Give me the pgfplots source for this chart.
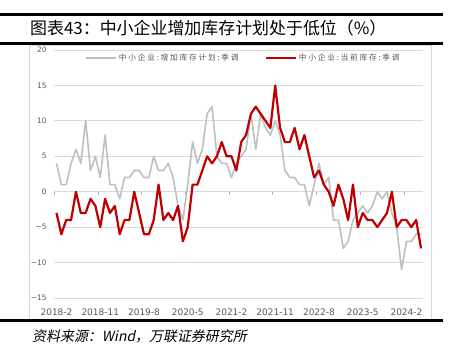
\documentclass[border=0pt]{standalone}
\usepackage{pgfplots}
\pgfplotsset{compat=1.18}
\usepackage{pgfplotstable}
\usepackage{fontspec}
\setmainfont{DejaVu Sans}
\newfontfamily\cjk{Noto Sans CJK SC}
\newfontfamily\cjkit[FakeSlant=0.2]{Noto Sans CJK SC}
\newfontfamily\cjkleg[LetterSpace=22]{Noto Sans CJK SC}
\definecolor{grayline}{HTML}{BFBFBF}
\definecolor{redline}{HTML}{C00000}
\definecolor{gridc}{HTML}{D9D9D9}
\definecolor{txt}{HTML}{595959}

\pgfplotstableread{
m plan cur
0 4 -3
1 1 -6
2 1 -4
3 4 -4
4 6 0
5 4 -3
6 10 -3
7 3 -1
8 5 -2
9 2 -5
10 8 -1
11 1 -3
12 1 -2
13 -1 -6
14 2 -4
15 2 -4
16 3 0
17 3 -3
18 2 -6
19 2 -6
20 5 -4
21 3 1
22 3 -4
23 4 -3
24 2 -4
25 -2 -2
26 -4 -7
27 1 -5
28 7 1
29 4 1
30 6 3
31 11 5
32 12 4
33 5 5
34 4 7
35 4 5
36 2 5
37 4 3
38 5 7
39 6 8
40 11 11
41 6 12
42 11 11
43 9 10
44 8 9
45 10 15
46 8 9
47 3 7
48 2 7
49 2 9
50 1 6
51 1 8
52 -2 5
53 1 2
54 4 3
55 1 1
56 2 0
57 -4 -2
58 -4 1
59 -8 -1
60 -7 -4
61 -4 1
62 -3 -5
63 -2 -3
64 -3 -4
65 -2 -4
66 0 -5
67 -1 -4
68 0 -3
69 -3 0
70 -5 -5
71 -11 -4
72 -7 -4
73 -7 -5
74 -6 -4
75 -6 -8
}\data

\begin{document}
\begin{tikzpicture}
\useasboundingbox (0bp,0bp) rectangle (450bp,357bp);
\draw[gridc, line width=0.8bp] (29.3bp,312bp) rectangle (431bp,37bp);

\begin{axis}[
  at={(54.07bp,59bp)}, anchor=south west,
  scale only axis, width=369.4bp, height=248bp,
  xmin=-0.5, xmax=75.5, ymin=-15, ymax=20,
  axis line style={draw=none},
  xtick={0,9,...,72},
  xticklabels={2018-2,2018-11,2019-8,2020-5,2021-2,2021-11,2022-8,2023-5,2024-2},
  ytick={-15,-10,...,20},
  yticklabels={−15,−10,−5,0,5,10,15,20},
  major tick length=0pt,
  ymajorgrids, grid style={gridc, line width=0.8bp},
  tick label style={text=txt},
  xticklabel style={font=\fontsize{9}{10}\selectfont, yshift=-7bp},
  yticklabel style={font=\fontsize{7.5}{8}\selectfont, xshift=-4bp},
  legend columns=2,
  legend style={at={(0.0839,0.9677)}, anchor=west, draw=none, fill=none,
    inner sep=0pt, font=\cjkleg\fontsize{7.8}{8}\selectfont, text=txt,
    /tikz/every even column/.append style={column sep=24bp}},
  legend image code/.code={\draw[#1] (0bp,0bp) -- (30bp,0bp);},
]
\addplot[grayline, line width=1.6bp, line join=round] table[x=m,y=plan]{\data};
\addlegendentry{中小企业:增加库存计划:季调}
\addplot[redline, line width=2.2bp, line join=round] table[x=m,y=cur]{\data};
\addlegendentry{中小企业:当前库存:季调}
\end{axis}

\begin{axis}[
  at={(54.07bp,59bp)}, anchor=south west,
  scale only axis, width=369.4bp, height=248bp,
  xmin=-0.5, xmax=75.5, ymin=-15, ymax=20,
  axis x line*=middle, axis y line=none,
  x axis line style={draw=none},
  xtick={-0.5,8.5,...,71.5}, xticklabels={,,,,,,,,},
  ytick=\empty,
  tick align=outside, major tick length=3bp,
  xtick style={draw=black!30, line width=0.6bp},
]
\end{axis}

\draw[line width=2.5bp] (0bp,342.3bp) -- (443bp,342.3bp);
\draw[line width=3bp] (0bp,313.7bp) -- (443bp,313.7bp);
\draw[line width=3bp] (0bp,36.3bp) -- (443bp,36.3bp);
\node[anchor=west, inner sep=0pt] at (30bp,328.5bp) {\cjk\fontsize{17}{17}\selectfont 图表43：中小企业增加库存计划处于低位（\%）};
\node[anchor=west, inner sep=0pt] at (32bp,21bp) {\cjkit\fontsize{14}{14}\selectfont 资料来源：Wind，万联证券研究所};
\end{tikzpicture}
\end{document}
